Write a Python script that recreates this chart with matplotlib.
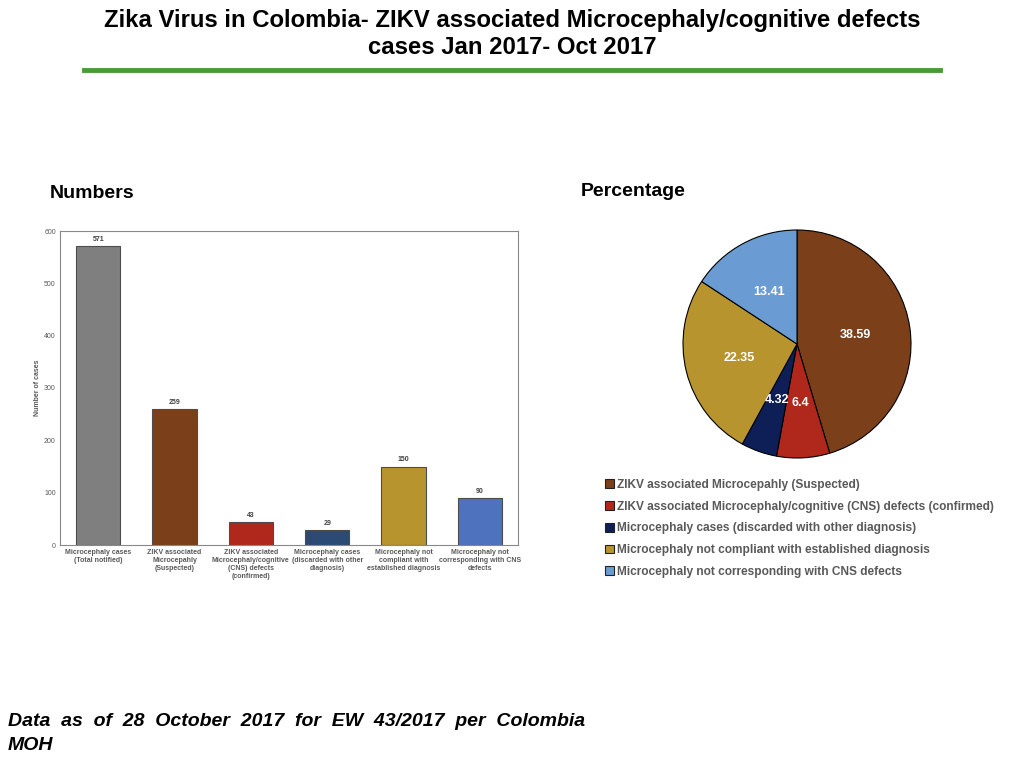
import matplotlib
matplotlib.use('Agg')
import matplotlib.pyplot as plt
from matplotlib.patches import Patch

plt.rcParams['font.family'] = ['Liberation Sans', 'DejaVu Sans']

# datos de las barras
categorias = ['Microcephaly cases\n(Total notified)',
              'ZIKV associated\nMicrocepahly\n(Suspected)',
              'ZIKV associated\nMicrocephaly/cognitive\n(CNS) defects\n(confirmed)',
              'Microcephaly cases\n(discarded with other\ndiagnosis)',
              'Microcephaly not\ncompliant with\nestablished diagnosis',
              'Microcephaly not\ncorresponding with CNS\ndefects']
casos = [571, 259, 43, 29, 150, 90]
colores_barras = ['#7f7f7f', '#7b3f1a', '#b0271c', '#2b4b74', '#b8942f', '#4f72bf']

# datos del pastel
etiquetas_pastel = ['ZIKV associated Microcepahly (Suspected)',
                    'ZIKV associated Microcephaly/cognitive (CNS) defects (confirmed)',
                    'Microcephaly cases (discarded with other diagnosis)',
                    'Microcephaly not compliant with established diagnosis',
                    'Microcephaly not corresponding with CNS defects']
porcentajes = [38.59, 6.4, 4.32, 22.35, 13.41]
textos_pastel = ['38.59', '6.4', '4.32', '22.35', '13.41']
colores_pastel = ['#7b3f1a', '#b0271c', '#0d1f56', '#b8942f', '#6b9bd3']

fig = plt.figure(figsize=(10.24, 7.68), dpi=100)

# TITULO
fig.text(0.5, 1 - 21 / 768, 'Zika Virus in Colombia- ZIKV associated Microcephaly/cognitive defects',
         ha='center', va='center', fontsize=17.2, fontweight='bold')
fig.text(0.5, 1 - 48 / 768, 'cases Jan 2017- Oct 2017',
         ha='center', va='center', fontsize=17.2, fontweight='bold')
fig.add_artist(plt.Line2D([84 / 1024, 940 / 1024], [1 - 70 / 768, 1 - 70 / 768],
                          color='#4a9a35', lw=3.5))

fig.text(50 / 1024, 1 - 193 / 768, 'Numbers', ha='left', va='center',
         fontsize=14, fontweight='bold')
fig.text(581 / 1024, 1 - 191 / 768, 'Percentage', ha='left', va='center',
         fontsize=14, fontweight='bold')

# GRAFICA DE BARRAS
ax = fig.add_axes([60 / 1024, 1 - 545 / 768, 458 / 1024, 314 / 768])
x = range(len(casos))
barras = ax.bar(x, casos, width=0.58, color=colores_barras, edgecolor='#4d4d4d', linewidth=0.8)
for b, v in zip(barras, casos):
    ax.text(b.get_x() + b.get_width() / 2, v + 6, str(v), ha='center', va='bottom',
            fontsize=5, fontweight='bold', color='#404040')
ax.set_xlim(-0.5, 5.5)
ax.set_ylim(0, 600)
ax.set_yticks(range(0, 601, 100))
ax.set_xticks(list(x))
ax.set_xticklabels(categorias, fontsize=5, fontweight='bold', color='#595959')
ax.tick_params(axis='both', length=0, labelsize=5, colors='#595959', pad=3)
ax.set_ylabel('Number of cases', fontsize=5, fontweight='bold', color='#595959', labelpad=2)
for s in ax.spines.values():
    s.set_color('#888888')
    s.set_linewidth(0.8)

# GRAFICA DE PASTEL
cx, cy, r = 797, 344, 114
axp = fig.add_axes([(cx - r) / 1024, 1 - (cy + r) / 768, 2 * r / 1024, 2 * r / 768])
cunas, textos = axp.pie(porcentajes, colors=colores_pastel, startangle=90, counterclock=False,
                        labels=textos_pastel, labeldistance=0.52,
                        wedgeprops=dict(edgecolor='black', linewidth=0.8),
                        textprops=dict(color='white', fontsize=9, fontweight='bold'))
for t in textos:
    t.set_ha('center')
    t.set_va('center')
axp.set_xlim(-1.0, 1.0)
axp.set_ylim(-1.0, 1.0)

# LEYENDA
manejadores = [Patch(facecolor=c, edgecolor='#222222', linewidth=0.8) for c in colores_pastel]
fig.legend(manejadores, etiquetas_pastel, loc='upper left',
           bbox_to_anchor=(594 / 1024, 1 - 468 / 768), frameon=False,
           prop=dict(size=8.6, weight='bold'), labelcolor='#595959',
           handlelength=0.75, handleheight=0.75, handletextpad=0.3, labelspacing=0.82)

# PIE DE PAGINA
fig.text(8 / 1024, 1 - 721 / 768, 'Data  as  of  28  October  2017  for  EW  43/2017  per  Colombia',
         ha='left', va='center', fontsize=14, fontweight='bold', style='italic')
fig.text(8 / 1024, 1 - 745 / 768, 'MOH', ha='left', va='center', fontsize=14,
         fontweight='bold', style='italic')

fig.savefig('out.png', dpi=100)
